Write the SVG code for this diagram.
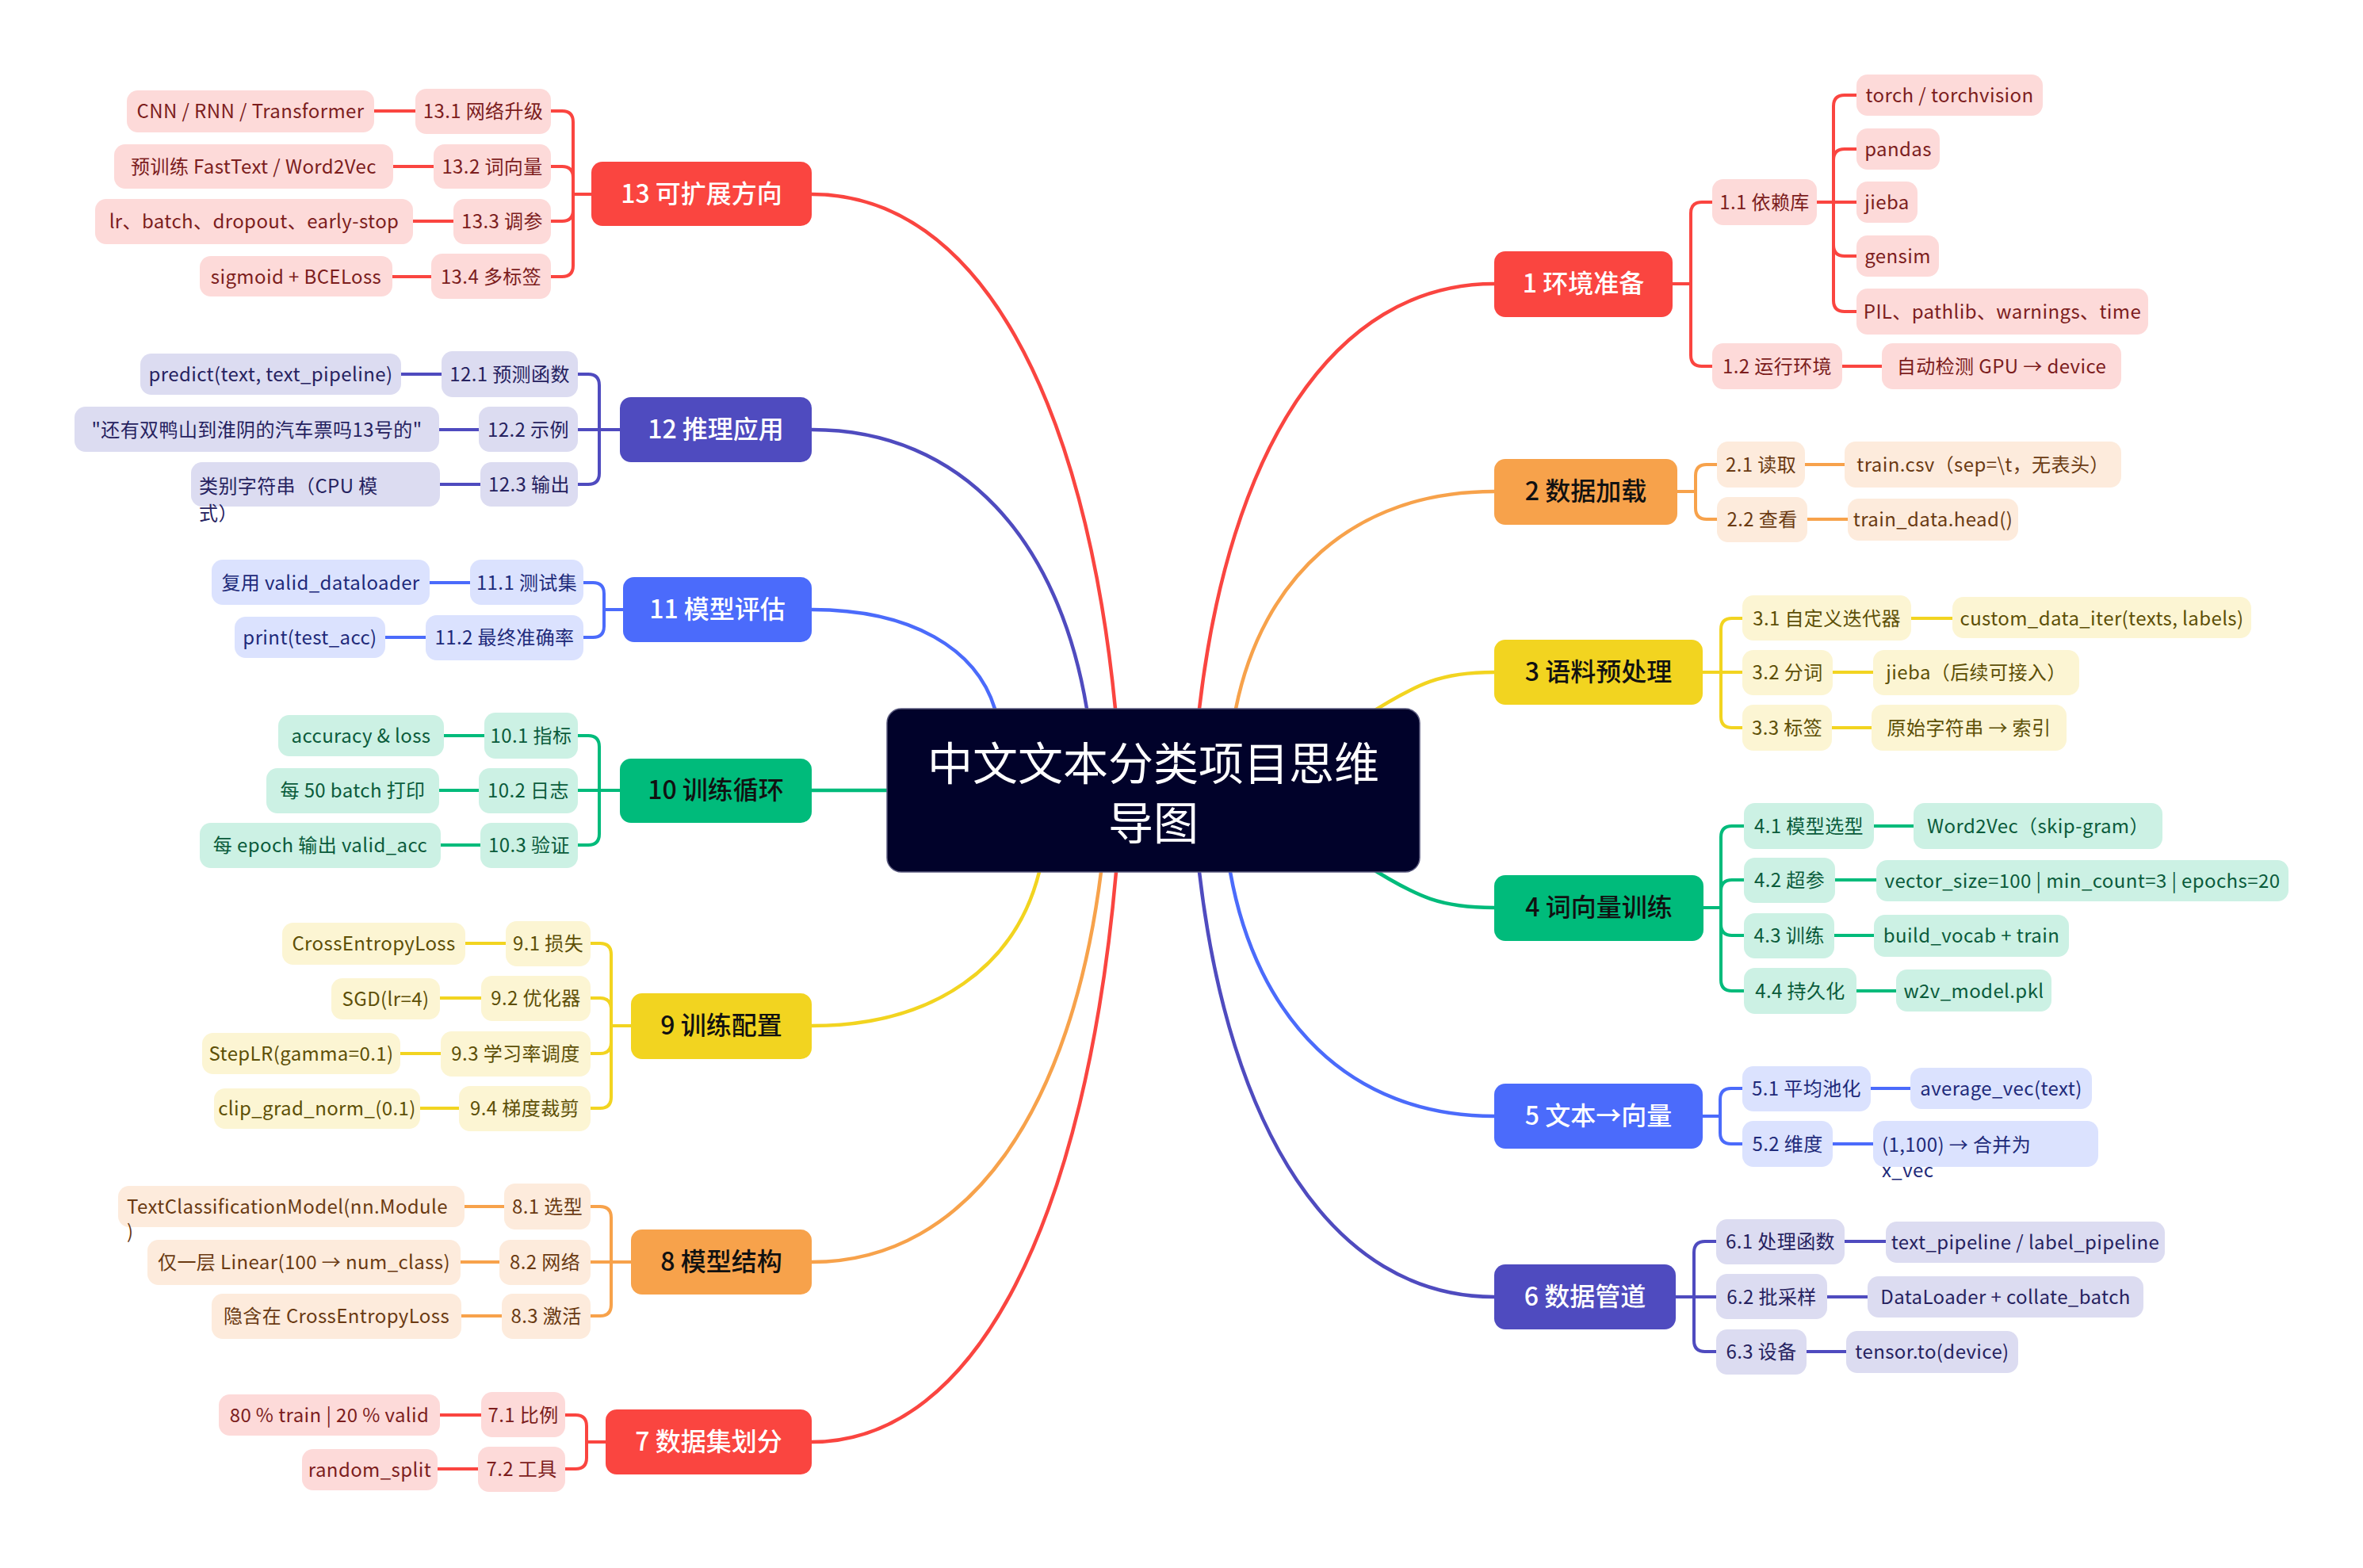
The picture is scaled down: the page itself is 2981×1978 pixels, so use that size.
<svg xmlns="http://www.w3.org/2000/svg" width="2981" height="1978" viewBox="0 0 2981 1978">
<style>
text{font-family:"Noto Sans CJK SC","Noto Sans",sans-serif;}
.m{font-size:32px;font-weight:500;text-anchor:middle;}
.s{font-size:24px;text-anchor:middle;letter-spacing:0.4px;}
.sl{font-size:24px;text-anchor:start;letter-spacing:0.4px;}
.mr{fill:#fa4540}.mo{fill:#f7a24b}.my{fill:#f2d420}.mg{fill:#00bb7b}.mb{fill:#4b6bfb}.mp{fill:#4f4bbf}
.lr{fill:#fddad9}.lo{fill:#fdebdc}.ly{fill:#fcf5d3}.lg{fill:#ccf1e4}.lb{fill:#dbe2fe}.lp{fill:#dcdcf1}
.tw{fill:#ffffff}.tk{fill:#111111}.tr{fill:#7c1d1d}.to{fill:#6a3a12}.ty{fill:#5d4f06}.tg{fill:#0a5b3b}.tb{fill:#1e2a7a}.tp{fill:#26225f}
#connectors path{fill:none;stroke-width:4;stroke-linecap:round;stroke-linejoin:round}
#connectors .main{stroke-width:4.5}
.cr{stroke:#fa4540}.co{stroke:#f7a24b}.cy{stroke:#f2d420}.cg{stroke:#00bb7b}.cb{stroke:#4b6bfb}.cp{stroke:#4f4bbf}
rect{rx:14px;ry:14px}
</style>
<rect x="0" y="0" width="2981" height="1978" fill="#ffffff" style="rx:0;ry:0"/>
<g id="connectors">
<path class="main cr" d="M1513 894 C1550 572 1680 358 1885 358"/>
<path class="main co" d="M1559 894 C1592 730 1706 620 1885 620"/>
<path class="main cy" d="M1720 905 C1790 860 1820 848 1885 848"/>
<path class="main cg" d="M1720 1089 C1790 1134 1820 1145 1885 1145"/>
<path class="main cb" d="M1552 1100 C1585 1285 1702 1408 1885 1408"/>
<path class="main cp" d="M1513 1100 C1550 1422 1680 1636 1885 1636"/>
<path class="main cr" d="M1407 894 C1369 505 1235 245 1024 245"/>
<path class="main cp" d="M1371 894 C1336 683 1215 542 1024 542"/>
<path class="main cb" d="M1255 894 C1232 819 1151 769 1024 769"/>
<path class="main cg" d="M1200 997 H1024"/>
<path class="main cy" d="M1311 1100 C1282 1216 1182 1294 1024 1294"/>
<path class="main co" d="M1389 1100 C1352 1395 1225 1592 1024 1592"/>
<path class="main cr" d="M1408 1100 C1370 1531 1235 1819 1024 1819"/>
<path class="cr" d="M2110 358 H2133 V269 Q2133 255 2147 255 H2160"/>
<path class="cr" d="M2110 358 H2133 V448 Q2133 462 2147 462 H2160"/>
<path class="cr" d="M2292 255 H2313 V134 Q2313 120 2327 120 H2342"/>
<path class="cr" d="M2292 255 H2313 V202 Q2313 188 2327 188 H2342"/>
<path class="cr" d="M2292 255 H2342"/>
<path class="cr" d="M2292 255 H2313 V309 Q2313 323 2327 323 H2342"/>
<path class="cr" d="M2292 255 H2313 V379 Q2313 393 2327 393 H2342"/>
<path class="cr" d="M2324 462 H2374"/>
<path class="co" d="M2116 620 H2139 V600 Q2139 586 2153 586 H2166"/>
<path class="co" d="M2116 620 H2139 V641 Q2139 655 2153 655 H2166"/>
<path class="co" d="M2277 586 H2327"/>
<path class="co" d="M2280 655 H2331"/>
<path class="cy" d="M2148 848 H2171 V794 Q2171 780 2185 780 H2198"/>
<path class="cy" d="M2148 848 H2198"/>
<path class="cy" d="M2148 848 H2171 V904 Q2171 918 2185 918 H2198"/>
<path class="cy" d="M2411 780 H2463"/>
<path class="cy" d="M2312 848 H2363"/>
<path class="cy" d="M2311 918 H2361"/>
<path class="cg" d="M2149 1145 H2171 V1056 Q2171 1042 2185 1042 H2200"/>
<path class="cg" d="M2149 1145 H2171 V1124 Q2171 1110 2185 1110 H2200"/>
<path class="cg" d="M2149 1145 H2171 V1166 Q2171 1180 2185 1180 H2200"/>
<path class="cg" d="M2149 1145 H2171 V1236 Q2171 1250 2185 1250 H2200"/>
<path class="cg" d="M2364 1042 H2414"/>
<path class="cg" d="M2315 1110 H2367"/>
<path class="cg" d="M2314 1180 H2364"/>
<path class="cg" d="M2342 1250 H2392"/>
<path class="cb" d="M2148 1408 H2170 V1387 Q2170 1373 2184 1373 H2198"/>
<path class="cb" d="M2148 1408 H2170 V1429 Q2170 1443 2184 1443 H2198"/>
<path class="cb" d="M2360 1373 H2410"/>
<path class="cb" d="M2312 1443 H2363"/>
<path class="cp" d="M2114 1636 H2137 V1580 Q2137 1566 2151 1566 H2165"/>
<path class="cp" d="M2114 1636 H2165"/>
<path class="cp" d="M2114 1636 H2137 V1691 Q2137 1705 2151 1705 H2165"/>
<path class="cp" d="M2327 1566 H2379"/>
<path class="cp" d="M2305 1636 H2356"/>
<path class="cp" d="M2279 1705 H2329"/>
<path class="cr" d="M746 245 H723 V154 Q723 140 709 140 H695"/>
<path class="cr" d="M746 245 H723 V224 Q723 210 709 210 H695"/>
<path class="cr" d="M746 245 H723 V265 Q723 279 709 279 H695"/>
<path class="cr" d="M746 245 H723 V335 Q723 349 709 349 H695"/>
<path class="cr" d="M524 140 H472"/>
<path class="cr" d="M547 210 H496"/>
<path class="cr" d="M572 279 H521"/>
<path class="cr" d="M544 349 H495"/>
<path class="cp" d="M782 542 H756 V486 Q756 472 742 472 H729"/>
<path class="cp" d="M782 542 H729"/>
<path class="cp" d="M782 542 H756 V597 Q756 611 742 611 H729"/>
<path class="cp" d="M557 472 H506"/>
<path class="cp" d="M604 542 H554"/>
<path class="cp" d="M606 611 H555"/>
<path class="cb" d="M786 769 H762 V749 Q762 735 748 735 H736"/>
<path class="cb" d="M786 769 H762 V790 Q762 804 748 804 H736"/>
<path class="cb" d="M593 735 H542"/>
<path class="cb" d="M537 804 H486"/>
<path class="cg" d="M782 997 H756 V942 Q756 928 742 928 H729"/>
<path class="cg" d="M782 997 H729"/>
<path class="cg" d="M782 997 H756 V1052 Q756 1066 742 1066 H729"/>
<path class="cg" d="M611 928 H560"/>
<path class="cg" d="M604 997 H554"/>
<path class="cg" d="M606 1066 H556"/>
<path class="cy" d="M796 1294 H771 V1204 Q771 1190 757 1190 H745"/>
<path class="cy" d="M796 1294 H771 V1273 Q771 1259 757 1259 H745"/>
<path class="cy" d="M796 1294 H771 V1315 Q771 1329 757 1329 H745"/>
<path class="cy" d="M796 1294 H771 V1384 Q771 1398 757 1398 H745"/>
<path class="cy" d="M638 1190 H587"/>
<path class="cy" d="M607 1259 H555"/>
<path class="cy" d="M556 1329 H505"/>
<path class="cy" d="M579 1398 H530"/>
<path class="co" d="M796 1592 H771 V1536 Q771 1522 757 1522 H745"/>
<path class="co" d="M796 1592 H745"/>
<path class="co" d="M796 1592 H771 V1646 Q771 1660 757 1660 H745"/>
<path class="co" d="M636 1522 H586"/>
<path class="co" d="M630 1592 H581"/>
<path class="co" d="M633 1660 H582"/>
<path class="cr" d="M764 1819 H740 V1799 Q740 1785 726 1785 H713"/>
<path class="cr" d="M764 1819 H740 V1839 Q740 1853 726 1853 H713"/>
<path class="cr" d="M607 1785 H555"/>
<path class="cr" d="M603 1853 H552"/>
</g>

<g id="root"><rect x="1119" y="894" width="672" height="206" style="rx:18px;ry:18px" fill="#01022a" stroke="#5c5c80" stroke-width="1.5"/><text x="1455" y="984" font-size="57" fill="#ffffff" text-anchor="middle">中文文本分类项目思维</text><text x="1455" y="1059" font-size="57" fill="#ffffff" text-anchor="middle">导图</text></g>

<g id="n1"><rect class="mr" x="1885" y="317" width="225" height="83"/><text class="m tw" x="1997.5" y="369">1 环境准备</text></g>
<g id="n1-1"><rect class="lr" x="2160" y="226" width="132" height="58"/><text class="s tr" x="2226" y="264">1.1 依赖库</text></g>
<g id="n1-1-1"><rect class="lr" x="2342" y="94" width="235" height="52"/><text class="s tr" x="2459.5" y="129">torch / torchvision</text></g>
<g id="n1-1-2"><rect class="lr" x="2342" y="162" width="105" height="52"/><text class="s tr" x="2394.5" y="197">pandas</text></g>
<g id="n1-1-3"><rect class="lr" x="2342" y="229" width="77" height="52"/><text class="s tr" x="2380.5" y="264">jieba</text></g>
<g id="n1-1-4"><rect class="lr" x="2342" y="297" width="104" height="52"/><text class="s tr" x="2394" y="332">gensim</text></g>
<g id="n1-1-5"><rect class="lr" x="2342" y="364" width="368" height="58"/><text class="s tr" x="2526" y="402">PIL、pathlib、warnings、time</text></g>
<g id="n1-2"><rect class="lr" x="2160" y="433" width="164" height="58"/><text class="s tr" x="2242" y="471">1.2 运行环境</text></g>
<g id="n1-2-1"><rect class="lr" x="2374" y="433" width="302" height="58"/><text class="s tr" x="2525" y="471">自动检测 GPU → device</text></g>

<g id="n2"><rect class="mo" x="1885" y="579" width="231" height="83"/><text class="m tk" x="2000.5" y="631">2 数据加载</text></g>
<g id="n2-1"><rect class="lo" x="2166" y="557" width="111" height="58"/><text class="s to" x="2221.5" y="595">2.1 读取</text></g>
<g id="n2-1-1"><rect class="lo" x="2327" y="557" width="349" height="58"/><text class="s to" x="2501.5" y="595">train.csv（sep=\t，无表头）</text></g>
<g id="n2-2"><rect class="lo" x="2166" y="627" width="114" height="57"/><text class="s to" x="2223" y="664">2.2 查看</text></g>
<g id="n2-2-1"><rect class="lo" x="2331" y="629" width="215" height="53"/><text class="s to" x="2438.5" y="664">train_data.head()</text></g>

<g id="n3"><rect class="my" x="1885" y="807" width="263" height="82"/><text class="m tk" x="2016.5" y="859">3 语料预处理</text></g>
<g id="n3-1"><rect class="ly" x="2198" y="751" width="213" height="57"/><text class="s ty" x="2304.5" y="789">3.1 自定义迭代器</text></g>
<g id="n3-1-1"><rect class="ly" x="2463" y="753" width="377" height="52"/><text class="s ty" x="2651.5" y="789">custom_data_iter(texts, labels)</text></g>
<g id="n3-2"><rect class="ly" x="2198" y="820" width="114" height="57"/><text class="s ty" x="2255" y="857">3.2 分词</text></g>
<g id="n3-2-1"><rect class="ly" x="2363" y="820" width="260" height="57"/><text class="s ty" x="2493" y="857">jieba（后续可接入）</text></g>
<g id="n3-3"><rect class="ly" x="2198" y="889" width="113" height="58"/><text class="s ty" x="2254.5" y="927">3.3 标签</text></g>
<g id="n3-3-1"><rect class="ly" x="2361" y="889" width="246" height="58"/><text class="s ty" x="2484" y="927">原始字符串 → 索引</text></g>

<g id="n4"><rect class="mg" x="1885" y="1104" width="264" height="83"/><text class="m tk" x="2017" y="1156">4 词向量训练</text></g>
<g id="n4-1"><rect class="lg" x="2200" y="1013" width="164" height="58"/><text class="s tg" x="2282" y="1051">4.1 模型选型</text></g>
<g id="n4-1-1"><rect class="lg" x="2414" y="1013" width="314" height="58"/><text class="s tg" x="2571" y="1051">Word2Vec（skip-gram）</text></g>
<g id="n4-2"><rect class="lg" x="2200" y="1082" width="115" height="57"/><text class="s tg" x="2257.5" y="1119">4.2 超参</text></g>
<g id="n4-2-1"><rect class="lg" x="2367" y="1085" width="520" height="52"/><text class="s tg" x="2627" y="1120">vector_size=100 | min_count=3 | epochs=20</text></g>
<g id="n4-3"><rect class="lg" x="2200" y="1152" width="114" height="57"/><text class="s tg" x="2257" y="1189">4.3 训练</text></g>
<g id="n4-3-1"><rect class="lg" x="2364" y="1154" width="246" height="53"/><text class="s tg" x="2487" y="1189">build_vocab + train</text></g>
<g id="n4-4"><rect class="lg" x="2200" y="1221" width="142" height="58"/><text class="s tg" x="2271" y="1259">4.4 持久化</text></g>
<g id="n4-4-1"><rect class="lg" x="2392" y="1223" width="196" height="53"/><text class="s tg" x="2490" y="1259">w2v_model.pkl</text></g>

<g id="n5"><rect class="mb" x="1885" y="1367" width="263" height="82"/><text class="m tw" x="2016.5" y="1419">5 文本→向量</text></g>
<g id="n5-1"><rect class="lb" x="2198" y="1345" width="162" height="57"/><text class="s tb" x="2279" y="1382">5.1 平均池化</text></g>
<g id="n5-1-1"><rect class="lb" x="2410" y="1347" width="229" height="52"/><text class="s tb" x="2524.5" y="1382">average_vec(text)</text></g>
<g id="n5-2"><rect class="lb" x="2198" y="1414" width="114" height="58"/><text class="s tb" x="2255" y="1452">5.2 维度</text></g>
<g id="n5-2-1"><rect class="lb" x="2363" y="1414" width="284" height="58"/><text class="sl tb" x="2374" y="1453">(1,100) → 合并为</text><text class="sl tb" x="2374" y="1485">x_vec</text></g>

<g id="n6"><rect class="mp" x="1885" y="1595" width="229" height="82"/><text class="m tw" x="1999.5" y="1647">6 数据管道</text></g>
<g id="n6-1"><rect class="lp" x="2165" y="1538" width="162" height="57"/><text class="s tp" x="2246" y="1575">6.1 处理函数</text></g>
<g id="n6-1-1"><rect class="lp" x="2379" y="1541" width="352" height="52"/><text class="s tp" x="2555" y="1576">text_pipeline / label_pipeline</text></g>
<g id="n6-2"><rect class="lp" x="2165" y="1607" width="140" height="57"/><text class="s tp" x="2235" y="1645">6.2 批采样</text></g>
<g id="n6-2-1"><rect class="lp" x="2356" y="1610" width="348" height="52"/><text class="s tp" x="2530" y="1645">DataLoader + collate_batch</text></g>
<g id="n6-3"><rect class="lp" x="2165" y="1677" width="114" height="57"/><text class="s tp" x="2222" y="1714">6.3 设备</text></g>
<g id="n6-3-1"><rect class="lp" x="2329" y="1679" width="217" height="53"/><text class="s tp" x="2437.5" y="1714">tensor.to(device)</text></g>

<g id="n13"><rect class="mr" x="746" y="204" width="278" height="81"/><text class="m tw" x="885" y="256">13 可扩展方向</text></g>
<g id="n13-1"><rect class="lr" x="524" y="112" width="171" height="57"/><text class="s tr" x="609.5" y="149">13.1 网络升级</text></g>
<g id="n13-1-1"><rect class="lr" x="160" y="114" width="312" height="53"/><text class="s tr" x="316" y="149">CNN / RNN / Transformer</text></g>
<g id="n13-2"><rect class="lr" x="547" y="182" width="148" height="56"/><text class="s tr" x="621" y="219">13.2 词向量</text></g>
<g id="n13-2-1"><rect class="lr" x="144" y="182" width="352" height="56"/><text class="s tr" x="320" y="219">预训练 FastText / Word2Vec</text></g>
<g id="n13-3"><rect class="lr" x="572" y="251" width="123" height="57"/><text class="s tr" x="633.5" y="288">13.3 调参</text></g>
<g id="n13-3-1"><rect class="lr" x="120" y="251" width="401" height="57"/><text class="s tr" x="320.5" y="288">lr、batch、dropout、early-stop</text></g>
<g id="n13-4"><rect class="lr" x="544" y="320" width="151" height="57"/><text class="s tr" x="619.5" y="358">13.4 多标签</text></g>
<g id="n13-4-1"><rect class="lr" x="252" y="323" width="243" height="51"/><text class="s tr" x="373.5" y="358">sigmoid + BCELoss</text></g>

<g id="n12"><rect class="mp" x="782" y="501" width="242" height="82"/><text class="m tw" x="903" y="553">12 推理应用</text></g>
<g id="n12-1"><rect class="lp" x="557" y="443" width="172" height="58"/><text class="s tp" x="643" y="481">12.1 预测函数</text></g>
<g id="n12-1-1"><rect class="lp" x="177" y="446" width="329" height="52"/><text class="s tp" x="341.5" y="481">predict(text, text_pipeline)</text></g>
<g id="n12-2"><rect class="lp" x="604" y="513" width="125" height="57"/><text class="s tp" x="666.5" y="551">12.2 示例</text></g>
<g id="n12-2-1"><rect class="lp" x="94" y="513" width="460" height="57"/><text class="s tp" x="324" y="551">"还有双鸭山到淮阴的汽车票吗13号的"</text></g>
<g id="n12-3"><rect class="lp" x="606" y="583" width="123" height="56"/><text class="s tp" x="667.5" y="620">12.3 输出</text></g>
<g id="n12-3-1"><rect class="lp" x="241" y="583" width="314" height="56"/><text class="sl tp" x="251" y="622">类别字符串（CPU 模</text><text class="sl tp" x="251" y="656">式）</text></g>

<g id="n11"><rect class="mb" x="786" y="728" width="238" height="82"/><text class="m tw" x="905" y="780">11 模型评估</text></g>
<g id="n11-1"><rect class="lb" x="593" y="706" width="143" height="57"/><text class="s tb" x="664.5" y="744">11.1 测试集</text></g>
<g id="n11-1-1"><rect class="lb" x="267" y="706" width="275" height="57"/><text class="s tb" x="404.5" y="744">复用 valid_dataloader</text></g>
<g id="n11-2"><rect class="lb" x="537" y="776" width="199" height="57"/><text class="s tb" x="636.5" y="813">11.2 最终准确率</text></g>
<g id="n11-2-1"><rect class="lb" x="296" y="778" width="190" height="52"/><text class="s tb" x="391" y="813">print(test_acc)</text></g>

<g id="n10"><rect class="mg" x="782" y="957" width="242" height="81"/><text class="m tk" x="903" y="1008">10 训练循环</text></g>
<g id="n10-1"><rect class="lg" x="611" y="899" width="118" height="58"/><text class="s tg" x="670" y="937">10.1 指标</text></g>
<g id="n10-1-1"><rect class="lg" x="351" y="902" width="209" height="52"/><text class="s tg" x="455.5" y="937">accuracy &amp; loss</text></g>
<g id="n10-2"><rect class="lg" x="604" y="969" width="125" height="57"/><text class="s tg" x="666.5" y="1006">10.2 日志</text></g>
<g id="n10-2-1"><rect class="lg" x="336" y="969" width="218" height="57"/><text class="s tg" x="445" y="1006">每 50 batch 打印</text></g>
<g id="n10-3"><rect class="lg" x="606" y="1038" width="123" height="57"/><text class="s tg" x="667.5" y="1075">10.3 验证</text></g>
<g id="n10-3-1"><rect class="lg" x="252" y="1038" width="304" height="57"/><text class="s tg" x="404" y="1075">每 epoch 输出 valid_acc</text></g>

<g id="n9"><rect class="my" x="796" y="1253" width="228" height="83"/><text class="m tk" x="910" y="1305">9 训练配置</text></g>
<g id="n9-1"><rect class="ly" x="638" y="1162" width="107" height="57"/><text class="s ty" x="691.5" y="1199">9.1 损失</text></g>
<g id="n9-1-1"><rect class="ly" x="356" y="1164" width="231" height="53"/><text class="s ty" x="471.5" y="1199">CrossEntropyLoss</text></g>
<g id="n9-2"><rect class="ly" x="607" y="1231" width="138" height="57"/><text class="s ty" x="676" y="1268">9.2 优化器</text></g>
<g id="n9-2-1"><rect class="ly" x="418" y="1234" width="137" height="52"/><text class="s ty" x="486.5" y="1269">SGD(lr=4)</text></g>
<g id="n9-3"><rect class="ly" x="556" y="1301" width="189" height="57"/><text class="s ty" x="650.5" y="1338">9.3 学习率调度</text></g>
<g id="n9-3-1"><rect class="ly" x="255" y="1303" width="250" height="52"/><text class="s ty" x="380" y="1338">StepLR(gamma=0.1)</text></g>
<g id="n9-4"><rect class="ly" x="579" y="1370" width="166" height="57"/><text class="s ty" x="662" y="1407">9.4 梯度裁剪</text></g>
<g id="n9-4-1"><rect class="ly" x="270" y="1373" width="260" height="51"/><text class="s ty" x="400" y="1407">clip_grad_norm_(0.1)</text></g>

<g id="n8"><rect class="mo" x="796" y="1551" width="228" height="82"/><text class="m tk" x="910" y="1603">8 模型结构</text></g>
<g id="n8-1"><rect class="lo" x="636" y="1493" width="109" height="58"/><text class="s to" x="690.5" y="1531">8.1 选型</text></g>
<g id="n8-1-1"><rect class="lo" x="149" y="1496" width="437" height="52"/><text class="sl to" x="160" y="1531">TextClassificationModel(nn.Module</text><text class="sl to" x="160" y="1562">)</text></g>
<g id="n8-2"><rect class="lo" x="630" y="1564" width="115" height="57"/><text class="s to" x="687.5" y="1601">8.2 网络</text></g>
<g id="n8-2-1"><rect class="lo" x="186" y="1564" width="395" height="57"/><text class="s to" x="383.5" y="1601">仅一层 Linear(100 → num_class)</text></g>
<g id="n8-3"><rect class="lo" x="633" y="1632" width="112" height="57"/><text class="s to" x="689" y="1669">8.3 激活</text></g>
<g id="n8-3-1"><rect class="lo" x="267" y="1632" width="315" height="57"/><text class="s to" x="424.5" y="1669">隐含在 CrossEntropyLoss</text></g>

<g id="n7"><rect class="mr" x="764" y="1778" width="260" height="82"/><text class="m tw" x="894" y="1830">7 数据集划分</text></g>
<g id="n7-1"><rect class="lr" x="607" y="1756" width="106" height="57"/><text class="s tr" x="660" y="1794">7.1 比例</text></g>
<g id="n7-1-1"><rect class="lr" x="276" y="1759" width="279" height="52"/><text class="s tr" x="415.5" y="1794">80 % train | 20 % valid</text></g>
<g id="n7-2"><rect class="lr" x="603" y="1825" width="110" height="57"/><text class="s tr" x="658" y="1862">7.2 工具</text></g>
<g id="n7-2-1"><rect class="lr" x="381" y="1828" width="171" height="52"/><text class="s tr" x="466.5" y="1863">random_split</text></g>
</svg>
